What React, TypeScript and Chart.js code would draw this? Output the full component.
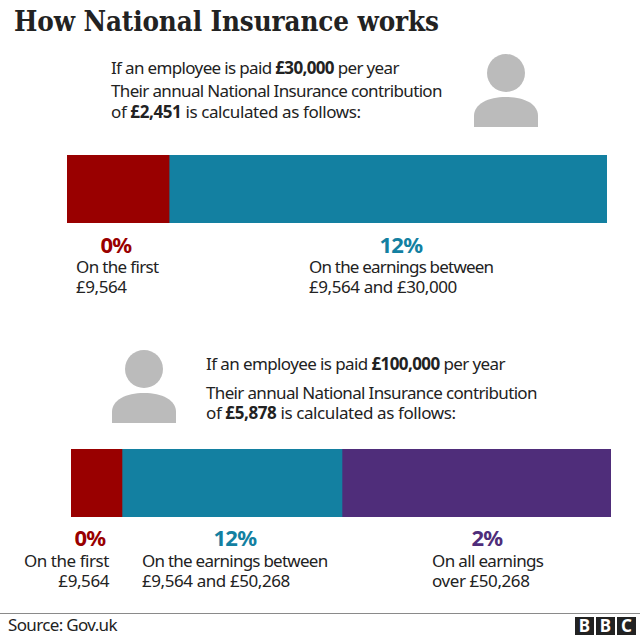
import React, { useEffect, useRef } from "react";
import { Chart, registerables } from "chart.js";

Chart.register(...registerables);

const bandNames = ["First band", "Middle band", "Upper band"];
const topBarShares = [18.9, 81.1];
const bottomBarShares = [9.44, 40.74, 49.82];
const bandColors = ["#990000", "#1380A1", "#4F2D7A"];
const axisMax = 100;

const TEXT = "#222222";
const SANS = "'Noto Sans', sans-serif";

function StackedBar({ shares, left, top, width, height }: { shares: number[]; left: number; top: number; width: number; height: number }) {
  const ref = useRef<HTMLCanvasElement>(null);
  useEffect(() => {
    const chart = new Chart(ref.current!, {
      type: "bar",
      data: {
        labels: ["Earnings"],
        datasets: shares.map((v, i) => ({
          label: bandNames[i],
          data: [v],
          backgroundColor: bandColors[i],
          borderWidth: 0,
          barPercentage: 1,
          categoryPercentage: 1,
        })),
      },
      options: {
        indexAxis: "y",
        responsive: false,
        animation: false,
        layout: { padding: 0 },
        plugins: { legend: { display: false }, title: { display: false }, tooltip: { enabled: false } },
        scales: {
          x: { stacked: true, min: 0, max: axisMax, display: false },
          y: { stacked: true, display: false },
        },
      },
    });
    return () => chart.destroy();
  }, [shares]);
  return <canvas ref={ref} width={width} height={height} style={{ position: "absolute", left, top, width, height, display: "block" }} />;
}

function T({ x, y, right, center, size = 17, color = TEXT, weight = 400, spacing = -0.65, children }: any) {
  const style: React.CSSProperties = {
    position: "absolute",
    top: y - 9,
    height: 18,
    lineHeight: "18px",
    fontFamily: SANS,
    fontSize: size,
    fontWeight: weight,
    color,
    letterSpacing: spacing,
    whiteSpace: "nowrap",
  };
  if (center !== undefined) {
    style.left = center - 30;
    style.width = 60;
    style.textAlign = "center";
  } else if (right !== undefined) {
    style.left = right - 100;
    style.width = 100;
    style.textAlign = "right";
  } else {
    style.left = x;
  }
  return <div style={style}>{children}</div>;
}

function Person({ x, y }: { x: number; y: number }) {
  return (
    <svg width={64} height={73} viewBox="0 0 64 73" style={{ position: "absolute", left: x, top: y }}>
      <ellipse cx={32} cy={19} rx={19} ry={19} fill="#bbbbbb" />
      <path d="M0 73 V62 C0 50 14 43 32 43 C50 43 64 50 64 62 V73 Z" fill="#bbbbbb" />
    </svg>
  );
}

export default function App() {
  useEffect(() => {
    document.body.style.margin = "0";
  }, []);
  const pct = { size: 22, weight: 700, spacing: -0.6 };
  const digits = { spacing: -0.42 };
  return (
    <div style={{ position: "relative", width: 640, height: 638, background: "#fff", overflow: "hidden" }}>
      <div style={{ position: "absolute", left: 14, top: 3, lineHeight: "36px", fontFamily: "'DejaVu Serif Condensed', 'DejaVu Serif', serif", fontStretch: "condensed", fontSize: 27.5, fontWeight: 700, color: TEXT, letterSpacing: -0.1, whiteSpace: "nowrap" }}>
        How National Insurance works
      </div>

      <T x={111} y={68}>If an employee is paid <b>£30,000</b> per year</T>
      <T x={111} y={91}>Their annual National Insurance contribution</T>
      <T x={111} y={112} spacing={-0.4}>of <b>£2,451</b> is calculated as follows:</T>
      <Person x={474} y={54} />

      <StackedBar shares={topBarShares} left={67} top={155} width={540} height={68} />

      <T center={116} y={244} {...pct} color={bandColors[0]}>0%</T>
      <T x={76} y={267}>On the first</T>
      <T x={76} y={287} {...digits}>£9,564</T>
      <T center={401} y={244} {...pct} color={bandColors[1]}>12%</T>
      <T x={309} y={267} spacing={-0.8}>On the earnings between</T>
      <T x={309} y={287} {...digits}>£9,564 and £30,000</T>

      <Person x={112} y={350} />
      <T x={206} y={364} spacing={-0.6}>If an employee is paid <b>£100,000</b> per year</T>
      <T x={206} y={393}>Their annual National Insurance contribution</T>
      <T x={206} y={413} spacing={-0.4}>of <b>£5,878</b> is calculated as follows:</T>

      <StackedBar shares={bottomBarShares} left={71} top={449} width={540} height={68} />

      <T center={90} y={537} {...pct} color={bandColors[0]}>0%</T>
      <T right={109} y={561} spacing={-0.45}>On the first</T>
      <T right={109} y={581} {...digits}>£9,564</T>
      <T center={235} y={537} {...pct} color={bandColors[1]}>12%</T>
      <T x={142} y={561} spacing={-0.75}>On the earnings between</T>
      <T x={142} y={581} {...digits}>£9,564 and £50,268</T>
      <T center={487} y={537} {...pct} color={bandColors[2]}>2%</T>
      <T x={432} y={561}>On all earnings</T>
      <T x={432} y={581} {...digits}>over £50,268</T>

      <div style={{ position: "absolute", left: 0, top: 613, width: 640, height: 1, background: "#8a8a8a" }} />
      <T x={8} y={625}>Source: Gov.uk</T>
      {["B", "B", "C"].map((c, i) => (
        <div key={i} style={{ position: "absolute", left: 575 + i * 21, top: 617, width: 19, height: 18, background: "#222", color: "#fff", fontFamily: SANS, fontWeight: 700, fontSize: 17, lineHeight: "18px", textAlign: "center" }}>{c}</div>
      ))}
    </div>
  );
}
